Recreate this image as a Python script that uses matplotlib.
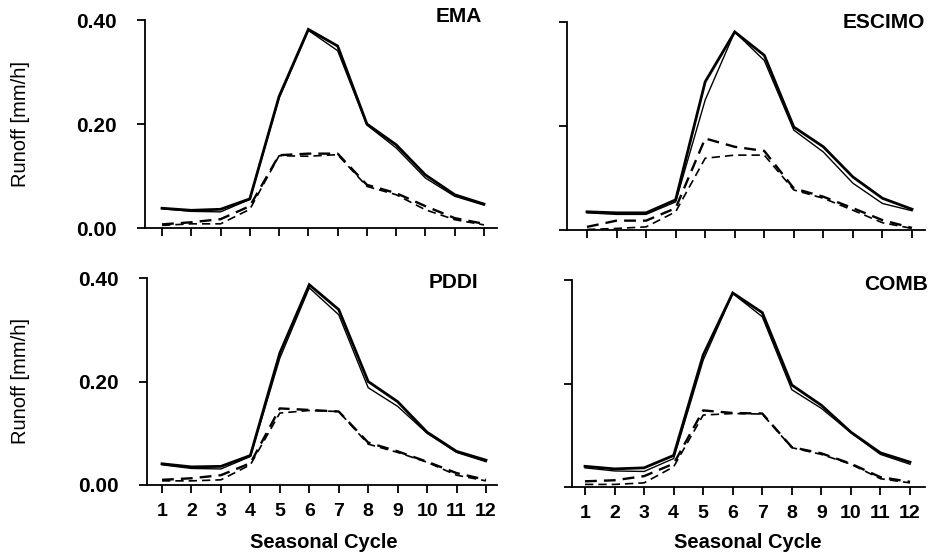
import numpy as np
import matplotlib.pyplot as plt

plt.rcParams['font.family'] = ['Liberation Sans', 'DejaVu Sans']

months = np.arange(1, 13)
month_labels = [str(m) for m in months]
yticks = [0.0, 0.2, 0.4]
ytick_labels = ["0.00", "0.20", "0.40"]

# EMA
ema_solid_a = [0.038, 0.034, 0.036, 0.056, 0.253, 0.382, 0.350, 0.200, 0.160, 0.102, 0.064, 0.046]
ema_solid_b = [0.037, 0.032, 0.031, 0.055, 0.250, 0.380, 0.341, 0.198, 0.154, 0.096, 0.061, 0.044]
ema_dash_a = [0.007, 0.011, 0.017, 0.042, 0.140, 0.143, 0.143, 0.083, 0.067, 0.042, 0.019, 0.008]
ema_dash_b = [0.005, 0.008, 0.008, 0.036, 0.139, 0.138, 0.141, 0.080, 0.064, 0.035, 0.016, 0.006]

# ESCIMO
esc_solid_a = [0.035, 0.033, 0.033, 0.058, 0.285, 0.381, 0.336, 0.198, 0.160, 0.102, 0.061, 0.040]
esc_solid_b = [0.033, 0.030, 0.030, 0.054, 0.250, 0.381, 0.326, 0.192, 0.150, 0.090, 0.051, 0.037]
esc_dash_a = [0.006, 0.018, 0.018, 0.042, 0.176, 0.160, 0.152, 0.080, 0.064, 0.042, 0.019, 0.004]
esc_dash_b = [0.001, 0.003, 0.006, 0.035, 0.138, 0.144, 0.144, 0.077, 0.061, 0.038, 0.014, 0.003]

# PDDI
pdd_solid_a = [0.041, 0.035, 0.036, 0.057, 0.255, 0.387, 0.339, 0.200, 0.161, 0.102, 0.065, 0.048]
pdd_solid_b = [0.039, 0.032, 0.031, 0.055, 0.245, 0.381, 0.329, 0.188, 0.152, 0.100, 0.063, 0.045]
pdd_dash_a = [0.010, 0.013, 0.019, 0.042, 0.148, 0.145, 0.142, 0.082, 0.065, 0.045, 0.023, 0.010]
pdd_dash_b = [0.008, 0.008, 0.010, 0.039, 0.139, 0.144, 0.142, 0.079, 0.063, 0.044, 0.019, 0.008]

# COMB
comb_solid_a = [0.040, 0.035, 0.037, 0.061, 0.255, 0.375, 0.337, 0.197, 0.158, 0.106, 0.066, 0.048]
comb_solid_b = [0.037, 0.031, 0.030, 0.055, 0.245, 0.374, 0.329, 0.188, 0.152, 0.105, 0.063, 0.044]
comb_dash_a = [0.011, 0.013, 0.021, 0.045, 0.148, 0.143, 0.142, 0.077, 0.065, 0.045, 0.019, 0.010]
comb_dash_b = [0.005, 0.005, 0.008, 0.039, 0.139, 0.142, 0.141, 0.076, 0.063, 0.044, 0.016, 0.008]

panels = [
    ("EMA", ema_solid_a, ema_solid_b, ema_dash_a, ema_dash_b),
    ("ESCIMO", esc_solid_a, esc_solid_b, esc_dash_a, esc_dash_b),
    ("PDDI", pdd_solid_a, pdd_solid_b, pdd_dash_a, pdd_dash_b),
    ("COMB", comb_solid_a, comb_solid_b, comb_dash_a, comb_dash_b),
]

W, H = 941, 560
fig = plt.figure(figsize=(W / 100, H / 100), dpi=100)

# pixel layout: spine x, tick-1 x, tick-12 x, right end x, y of 0.0, y of 0.4, title right x, title y
boxes = [
    (145, 162, 484, 497, 228, 20, 482, 16),
    (567, 587, 912, 925, 230, 22, 925, 23),
    (147, 162, 486, 497, 485, 278, 478, 283),
    (572, 585, 910, 925, 487, 280, 928, 285),
]

for i, ((name, sa, sb, da, db), box) in enumerate(zip(panels, boxes)):
    x0, t1, t12, x1, y0, y4, tx, ty = box
    ax = fig.add_axes([x0 / W, 1 - y0 / H, (x1 - x0) / W, (y0 - y4) / H])
    step = (t12 - t1) / 11
    ax.set_xlim(1 - (t1 - x0) / step, 12 + (x1 - t12) / step)
    ax.set_ylim(0, 0.4)

    ax.plot(months, sa, color="black", lw=2.0, solid_joinstyle="miter")
    ax.plot(months, sb, color="black", lw=1.0)
    ax.plot(months, da, color="black", lw=1.7, dashes=(5, 3))
    ax.plot(months, db, color="black", lw=1.2, dashes=(5, 3))

    for s in ["top", "right"]:
        ax.spines[s].set_visible(False)
    for s in ["left", "bottom"]:
        ax.spines[s].set_linewidth(1.3)

    ax.set_xticks(months)
    ax.set_yticks(yticks)
    ax.tick_params(direction="out", length=6, width=1.3)
    ax.tick_params(axis="x", pad=7)
    ax.tick_params(axis="y", pad=14)
    if i >= 2:
        ax.set_xticklabels(month_labels, fontsize=14, fontweight="bold")
        fig.text((t1 + t12) / 2 / W, 1 - 542 / H, "Seasonal Cycle",
                 ha="center", va="center", fontsize=14.5, fontweight="bold")
    else:
        ax.set_xticklabels([])
    if i % 2 == 0:
        ax.set_yticklabels(ytick_labels, fontsize=15, fontweight="bold")
        fig.text(21 / W, 1 - (y0 + y4) / 2 / H, "Runoff [mm/h]", rotation=90,
                 ha="center", va="center", fontsize=14.5)
    else:
        ax.set_yticklabels([])

    fig.text(tx / W, 1 - ty / H, name, ha="right", va="center",
             fontsize=15, fontweight="bold")

fig.savefig("out.png", dpi=100)
plt.close(fig)
